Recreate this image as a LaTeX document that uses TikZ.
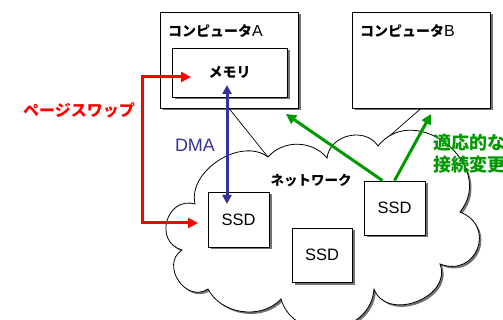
\documentclass[tikz,border=0pt]{standalone}
\usepackage{fontspec}
\setmainfont{Liberation Sans}
\newfontfamily\jp{Noto Sans CJK JP}
\usetikzlibrary{arrows.meta,shadows,calc}
\definecolor{dmablue}{RGB}{51,51,153}
\definecolor{swapred}{RGB}{255,0,0}
\definecolor{adgreen}{RGB}{0,153,0}
\begin{document}
\begin{tikzpicture}[x=1pt,y=-1pt,
  boxshadow/.style={drop shadow={shadow xshift=2.5pt,shadow yshift=-2.5pt,fill=black!55,opacity=1}},
  box/.style={draw=black,line width=0.8pt,fill=white,boxshadow,inner sep=0pt},
  ssdbox/.style={box,minimum width=61pt,minimum height=55pt,font=\fontsize{16.5}{16.5}\selectfont},
  jplabel/.style={font=\jp\bfseries\fontsize{14}{14}\selectfont,inner sep=0pt},
  thick arrow/.style={line width=3pt,-{Triangle[length=10pt,width=10pt]}},
  puff/.style 2 args={bend left=#1,looseness=#2},
]
\useasboundingbox (0,0) rectangle (503,320);

% computers
\node[box,minimum width=138pt,minimum height=96pt] (compA) at (229,60) {};
\node[box,minimum width=138pt,minimum height=96pt] (compB) at (421,60) {};
\node[jplabel,anchor=west] (labA) at (168,31) {コンピュータ{\rmfamily\mdseries\fontsize{16}{16}\selectfont A}};
\node[jplabel,anchor=west] (labB) at (360,31) {コンピュータ{\rmfamily\mdseries\fontsize{16}{16}\selectfont B}};
\node[box,minimum width=115pt,minimum height=49pt,font=\jp\bfseries\fontsize{14}{14}\selectfont] (mem) at (229.5,72.5) {メモリ};

% cloud notch points
\coordinate (n2) at (268,157);
\coordinate (n4) at (378,146);

% links from computers to the network
\draw[line width=0.7pt] (compA.south) -- (n2);
\draw[line width=0.7pt] (compB.south) -- (n4);

% cloud
\draw[line width=0.8pt,fill=white,drop shadow={shadow xshift=2pt,shadow yshift=-2pt,fill=black!55,opacity=1}]
  (195,204) to[puff={70}{1}] (n2)
  to[puff={50}{1}] (327,158)
  to[puff={70}{1.15}] (n4)
  to[puff={90}{1.45}] (460,212)
  to[puff={90}{1.8}] (440,264)
  to[puff={90}{1.3}] (374,289)
  to[puff={80}{1.3}] (281,299)
  to[puff={55}{1}] (208,289)
  to[puff={90}{1.45}] (182,250)
  to[puff={90}{1.6}] (195,204) -- cycle;
\node[jplabel,font=\jp\bfseries\fontsize{13.5}{13.5}\selectfont] (net) at (311,181) {ネットワーク};

% SSDs
\node[ssdbox] (ssd1) at (238.5,219.5) {SSD};
\node[ssdbox,minimum height=54pt] (ssd2) at (394.5,208) {SSD};
\node[ssdbox,minimum width=60pt,minimum height=54pt] (ssd3) at (322,255) {SSD};

% DMA
\coordinate (dmatop) at (227,85);
\coordinate (dmabot) at (227,204);
\draw[dmablue,line width=3pt,{Triangle[length=9pt,width=9pt]}-{Triangle[length=9pt,width=9pt]}] (dmatop) -- (dmabot);
\node[text=dmablue,font=\fontsize{18}{18}\selectfont,inner sep=0pt] (dma) at (195,145) {DMA};

% page swap
\coordinate (swaptop) at (191,77);
\coordinate (swapbot) at (198,223);
\coordinate (swapc1) at (142,77);
\coordinate (swapc2) at (142,223);
\draw[swapred,line width=3pt,{Triangle[length=10pt,width=10pt]}-{Triangle[length=10pt,width=10pt]}] (swaptop) -- (swapc1) -- (swapc2) -- (swapbot);
\node[text=swapred,font=\jp\bfseries\fontsize{16}{16}\selectfont,inner sep=0pt] (swap) at (79,110) {ページスワップ};

% adaptive reconnection
\coordinate (gtipA) at (286,114);
\coordinate (gtipB) at (431,114);
\draw[adgreen,thick arrow] ($(ssd2.north)+(-12,0)$) -- (gtipA);
\draw[adgreen,thick arrow] (ssd2.north) -- (gtipB);
\node[text=adgreen,font=\jp\bfseries\fontsize{18}{22}\selectfont,anchor=north west,inner sep=0pt,align=left] (adapt) at (433,134) {適応的な\\接続変更};
\end{tikzpicture}
\end{document}
